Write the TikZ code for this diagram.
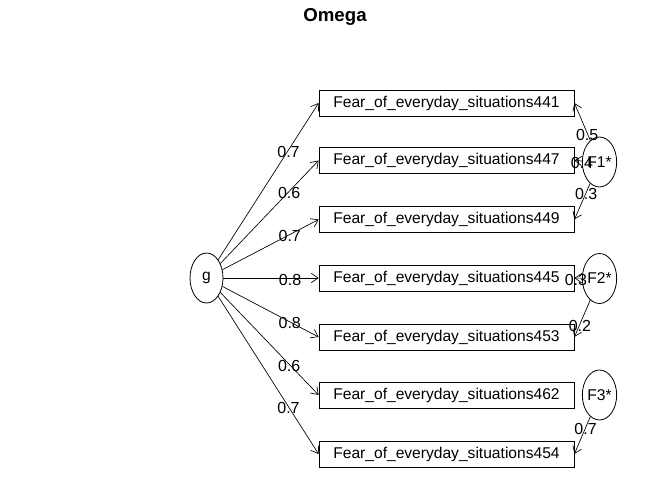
\documentclass[tikz,border=0pt]{standalone}
\usepackage{fontspec}
\setmainfont{Liberation Sans}
\usetikzlibrary{shapes.geometric,arrows.meta}
\begin{document}
\begin{tikzpicture}[x=0.75pt,y=-0.75pt,
    box/.style={rectangle, draw, line width=0.6pt, minimum width=191.25pt, minimum height=19.5pt, inner sep=0pt, font=\fontsize{11.7}{13}\selectfont},
    latent/.style={ellipse, draw, line width=0.6pt, minimum width=24.75pt, minimum height=37.5pt, inner sep=0pt, font=\fontsize{11.7}{13}\selectfont},
    lbl/.style={inner sep=0pt, yshift=-1.2pt, font=\fontsize{12}{13}\selectfont},
    arr/.style={-{Straight Barb[length=5pt,width=7pt]}, line width=0.5pt}]
        \useasboundingbox (0,0) rectangle (672,480);
        % Titolo
        \node (title) at (335,17) [font=\bfseries\fontsize{14}{16}\selectfont] {Omega};
        
        % Fattore generale
        \node (g) at (206.5,278) [latent] {g};
        
        % Indicatori
        \node (b1) at (446.5,103) [box] {Fear\_of\_everyday\_situations441};
        \node (b2) at (446.5,160.5) [box] {Fear\_of\_everyday\_situations447};
        \node (b3) at (446.5,219.5) [box] {Fear\_of\_everyday\_situations449};
        \node (b4) at (446.5,278) [box] {Fear\_of\_everyday\_situations445};
        \node (b5) at (446.5,337) [box] {Fear\_of\_everyday\_situations453};
        \node (b6) at (446.5,395) [box] {Fear\_of\_everyday\_situations462};
        \node (b7) at (446.5,454) [box] {Fear\_of\_everyday\_situations454};
        
        % Fattori specifici
        \node (F1) at (599.5,162) [latent] {F1*};
        \node (F2) at (599.5,278.5) [latent] {F2*};
        \node (F3) at (599.5,395) [latent] {F3*};
        
        % Collegamenti
        \draw[arr] (g) -- (b1.west) node[lbl, pos=0.7] {0.7};
        \draw[arr] (g) -- (b2.west) node[lbl, pos=0.7] {0.6};
        \draw[arr] (g) -- (b3.west) node[lbl, pos=0.7] {0.7};
        \draw[arr] (g) -- (b4.west) node[lbl, pos=0.7] {0.8};
        \draw[arr] (g) -- (b5.west) node[lbl, pos=0.7] {0.8};
        \draw[arr] (g) -- (b6.west) node[lbl, pos=0.7] {0.6};
        \draw[arr] (g) -- (b7.west) node[lbl, pos=0.7] {0.7};
        \draw[arr] (F1) -- (b1.east) node[lbl, pos=0.2] {0.5};
        \draw[arr] (F1) -- (b2.east) node[lbl, pos=0] {0.4};
        \draw[arr] (F1) -- (b3.east) node[lbl, pos=0.25] {0.3};
        \draw[arr] (F2) -- (b4.east) node[lbl, pos=0.8] {0.3};
        \draw[arr] (F2) -- (b5.east) node[lbl, pos=0.65] {0.2};
        \draw[arr] (F3) -- (b7.east) node[lbl, pos=0.3] {0.7};
    \end{tikzpicture}
\end{document}
